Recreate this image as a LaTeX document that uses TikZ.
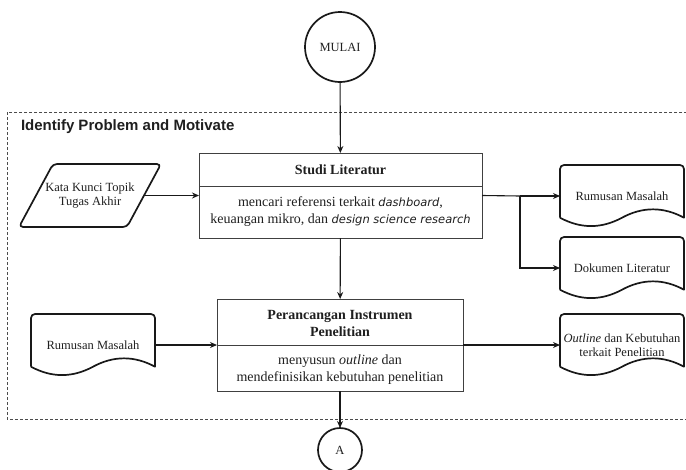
\documentclass[tikz,border=0pt]{standalone}
\usepackage{fontspec}
\setmainfont{Liberation Serif}
\newfontfamily\headfont{Liberation Sans}
\newfontfamily\obliquefont{DejaVu Sans}
\usetikzlibrary{arrows.meta,calc}

% oblique sans used for the English terms in the literature step
\newcommand\termtext[1]{{\obliquefont\itshape\fontsize{11.5}{17}\selectfont #1}}

% document symbol (flat top with rounded corners, wavy bottom) around a node
\newcommand\docoutline[1]{%
  \draw[ink] let \p1=(#1.north west), \p2=(#1.south east),
      \n1={\x2-\x1}, \n2={\y1-\y2}, \n3={0.3*\n2} in
    [rounded corners=4pt] (\x1,\y2+0.5*\n3) -- (\x1,\y1) -- (\x2,\y1)
    [sharp corners] -- (\x2,\y2+0.5*\n3)
    .. controls (\x2-\n1/6,\y2+1.1*\n3) and (\x1+2*\n1/3,\y2+1.1*\n3) .. (\x1+\n1/2,\y2+0.5*\n3)
    .. controls (\x1+\n1/3,\y2-0.1*\n3) and (\x1+\n1/6,\y2-0.1*\n3) .. (\x1,\y2+0.5*\n3);
}

\begin{document}
\begin{tikzpicture}[x=1pt,y=-1pt,
  every node/.style={inner sep=0pt, outer sep=0pt, text=black!88},
  ink/.style={draw=black!90, line width=1.7pt, line join=round},
  terminal/.style={circle, ink, font=\fontsize{12.5}{15}\selectfont},
  procbox/.style={draw=black!75, line width=0.9pt},
  headtxt/.style={align=center, font=\bfseries\fontsize{14}{17}\selectfont},
  bodytxt/.style={align=center, font=\fontsize{14}{17}\selectfont},
  docnode/.style={minimum width=124, minimum height=62, align=center,
                  font=\fontsize{12.5}{14}\selectfont},
  flow/.style={draw=black!90, line width=1.1pt, -{Stealth[length=7pt,width=6pt]}},
  link/.style={draw=black!90, line width=1.1pt},
  region/.style={draw=black!70, line width=0.9pt, dash pattern=on 3pt off 2pt},
]
\useasboundingbox (0,0) rectangle (686,469);

% phase region
\draw[region] (7,112) rectangle (700,419);
\node[anchor=west, font=\headfont\bfseries\fontsize{15}{18}\selectfont] (phase)
  at (21,127) {Identify Problem and Motivate};

% start and off-page connector
\node[terminal, minimum size=70] (mulai) at (340,47) {MULAI};
\node[terminal, minimum size=44] (conA) at (340,450) {A};

% step 1: literature study
\node[procbox, minimum width=283, minimum height=85] (studi) at (340.5,195.5) {};
\draw[procbox] ($(studi.north west)+(0,33)$) -- ($(studi.north east)+(0,33)$);
\node[headtxt] (studiT) at (340.5,170) {Studi Literatur};
\node[bodytxt] (studiB) at (340.5,212)
  {mencari referensi terkait \termtext{dashboard},\\
   keuangan mikro, dan \termtext{design science research}};

% step 2: research instrument design
\node[procbox, minimum width=246, minimum height=92] (ranc) at (340,345) {};
\draw[procbox] (ranc.west) -- (ranc.east);
\node[headtxt] (rancT) at (340,323) {Perancangan Instrumen\\Penelitian};
\node[bodytxt] (rancB) at (340,369.5)
  {menyusun \textit{outline} dan\\mendefinisikan kebutuhan penelitian};

% input: keywords (parallelogram)
\node[minimum width=108, minimum height=63, align=center,
      font=\fontsize{12.5}{14}\selectfont] (kata) at (90,195.5)
  {Kata Kunci Topik\\Tugas Akhir};
\draw[ink, rounded corners=4pt]
  ($(kata.south west)+(-17,0)$) -- ($(kata.north west)+(17,0)$) --
  ($(kata.north east)+(17,0)$) -- ($(kata.south east)+(-17,0)$) -- cycle;

% documents
\node[docnode] (rumus1) at (622,196) {Rumusan Masalah};
\node[docnode] (dokLit) at (622,268) {Dokumen Literatur};
\node[docnode] (rumus2) at (93,345) {Rumusan Masalah};
\node[docnode] (outl) at (622,345) {\textit{Outline} dan Kebutuhan\\terkait Penelitian};
\docoutline{rumus1}
\docoutline{dokLit}
\docoutline{rumus2}
\docoutline{outl}

% connectors
\coordinate (split) at (520,196);
\draw[flow] (mulai) -- (studi);
\draw[flow] (kata.east) -- (studi.west);
\draw[link] (studi.east) -- (split);
\draw[flow] (split) -- (rumus1.west);
\draw[flow] (split) |- (dokLit.west);
\draw[flow] (studi) -- (ranc);
\draw[flow] (rumus2.east) -- (ranc.west);
\draw[flow] (ranc.east) -- (outl.west);
\draw[flow] (ranc) -- (conA);
\end{tikzpicture}
\end{document}
